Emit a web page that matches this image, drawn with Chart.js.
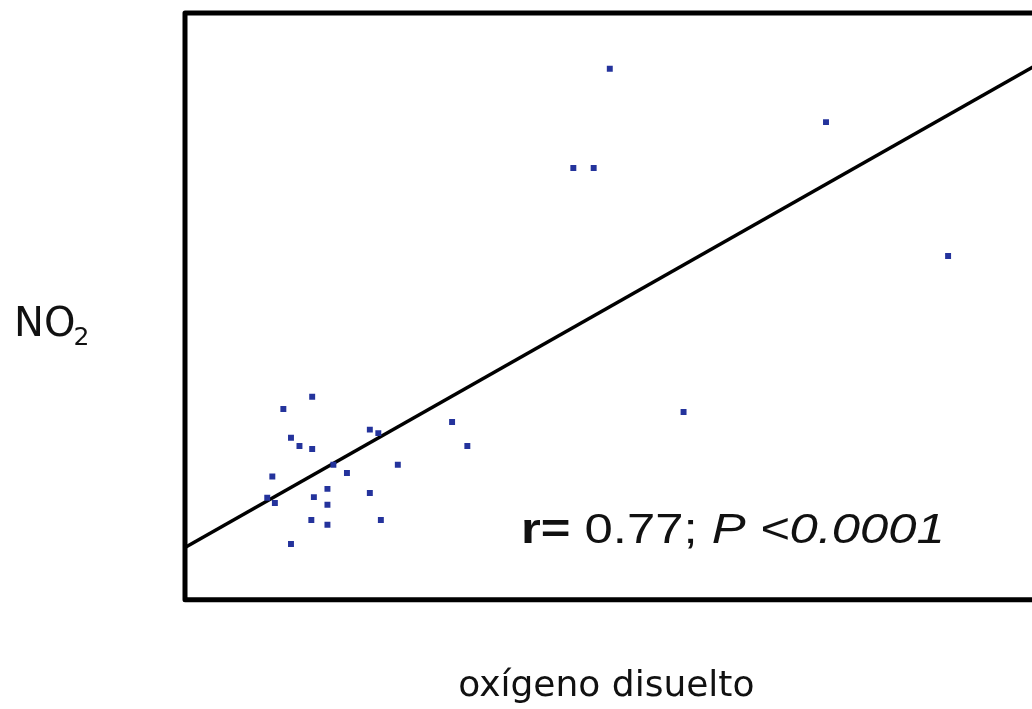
<!DOCTYPE html>
<html>
<head>
<meta charset="utf-8">
<script src="https://cdn.jsdelivr.net/npm/chart.js@4/dist/chart.umd.min.js"></script>
<style>
  body { margin: 0; background: #fff; overflow: hidden; }
  #wrap { width: 1032px; height: 709px; }
</style>
</head>
<body>
<div id="wrap"><canvas id="scatterChart"></canvas></div>
<script>
// oxígeno disuelto (x) vs NO2 (y) (arbitrary units 0-100)
let oxygen = [15.0, 11.6, 12.5, 13.5, 15.0, 21.8, 22.8, 31.5, 33.3, 17.5,
              19.1, 25.1, 10.3, 16.8, 21.8, 9.7, 10.6, 15.2, 16.8, 14.9,
              16.8, 23.1, 12.5, 50.1, 45.8, 48.2, 75.6, 90.0, 58.8];
let no2 = [34.6, 32.5, 27.6, 26.2, 25.7, 29.0, 28.4, 30.3, 26.2, 23.0,
           21.6, 23.0, 21.0, 18.9, 18.2, 17.4, 16.5, 17.5, 16.2, 13.6,
           12.8, 13.6, 9.5, 90.5, 73.6, 73.6, 81.4, 58.6, 32.0];
// fitted line end points
let fitX = [0, 100];
let fitY = [8.9, 90.8];

let points = [];
oxygen.forEach(function (value, i) {
    points.push({ x: value, y: no2[i] });
});
let fitLine = fitX.map(function (value, i) {
    return { x: value, y: fitY[i] };
});

// box on top, left and bottom sides (right side runs off the picture)
const framePlugin = {
    id: 'frame',
    beforeDatasetsDraw(chart) {
        const a = chart.chartArea;
        const ctx = chart.ctx;
        ctx.save();
        ctx.strokeStyle = '#000';
        ctx.lineWidth = 5;
        ctx.lineJoin = 'round';
        ctx.beginPath();
        ctx.moveTo(a.right + 10, a.top);
        ctx.lineTo(a.left, a.top);
        ctx.lineTo(a.left, a.bottom);
        ctx.lineTo(a.right + 10, a.bottom);
        ctx.stroke();
        ctx.restore();
    }
};

// NO2 label and the r / P note
const textPlugin = {
    id: 'notes',
    afterDraw(chart) {
        const ctx = chart.ctx;
        const a = chart.chartArea;
        ctx.save();
        ctx.fillStyle = '#111';
        ctx.textBaseline = 'alphabetic';
        ctx.textAlign = 'left';

        // y label
        ctx.font = '40px "DejaVu Sans"';
        ctx.fillText('NO', 14, 336);
        let w = ctx.measureText('NO').width;
        ctx.font = '25px "DejaVu Sans"';
        ctx.fillText('2', 14 + w - 2, 345);

        // correlation note
        ctx.translate(a.left + 336, 543);
        ctx.scale(1.21, 1);
        let parts = [
            ['bold 42px "Liberation Sans"', 'r='],
            ['42px "Liberation Sans"', ' 0.77; '],
            ['italic 42px "Liberation Sans"', 'P <0.0001']
        ];
        let x = 0;
        parts.forEach(function (p) {
            ctx.font = p[0];
            ctx.fillText(p[1], x, 0);
            x += ctx.measureText(p[1]).width;
        });
        ctx.restore();
    }
};

new Chart(document.getElementById('scatterChart'), {
    type: 'scatter',
    data: {
        datasets: [
            {
                data: points,
                pointStyle: 'rect',
                pointRadius: 4.2,
                pointHoverRadius: 4.2,
                backgroundColor: '#24339c',
                borderWidth: 0,
                order: 1
            },
            {
                type: 'line',
                data: fitLine,
                borderColor: '#000000',
                borderWidth: 3.5,
                pointRadius: 0,
                fill: false,
                clip: false,
                order: 2
            }
        ]
    },
    options: {
        responsive: true,
        maintainAspectRatio: false,
        animation: false,
        layout: { padding: { left: 185, top: 13, right: 0, bottom: 1 } },
        plugins: {
            legend: { display: false },
            tooltip: { enabled: false }
        },
        scales: {
            x: {
                type: 'linear',
                min: 0,
                max: 99.4,
                grid: { display: false, drawTicks: false },
                border: { display: false },
                ticks: { display: false },
                title: {
                    display: true,
                    text: 'oxígeno disuelto',
                    color: '#111',
                    font: { family: '"DejaVu Sans"', size: 36 },
                    padding: { top: 65, bottom: 0 }
                }
            },
            y: {
                display: false,
                min: 0,
                max: 100
            }
        }
    },
    plugins: [framePlugin, textPlugin]
});
</script>
</body>
</html>
